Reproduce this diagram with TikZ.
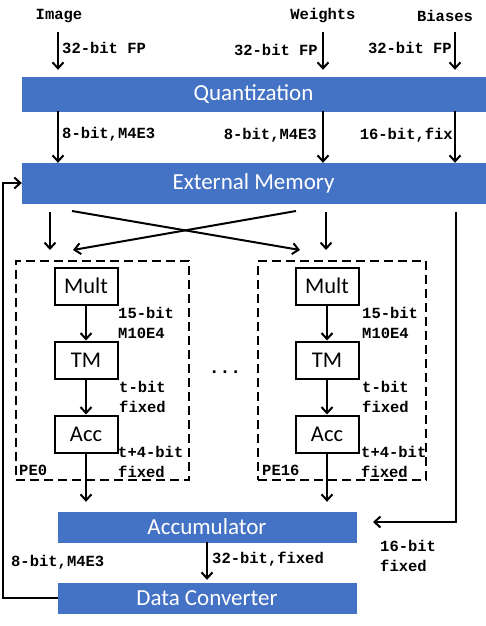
\documentclass[tikz,border=0pt]{standalone}
\usepackage{fontspec}
\setmainfont{Carlito}
\newfontfamily\monofnt{Liberation Mono}
\usetikzlibrary{arrows.meta}
\definecolor{C0}{RGB}{68,114,196}

\begin{document}
\begin{tikzpicture}[x=1pt,y=-1pt,
  bar/.style={fill=C0,draw=C0,text=white,inner sep=0pt,font=\fontsize{23}{27}\selectfont},
  unit/.style={draw,line width=2pt,minimum width=63pt,minimum height=37pt,inner sep=0pt,font=\fontsize{22.5}{27}\selectfont},
  lbl/.style={inner sep=0pt,align=left,font=\monofnt\bfseries\fontsize{15.5}{20}\selectfont},
  pe/.style={draw,line width=2pt,dash pattern=on 9pt off 5pt,minimum width=173pt,minimum height=219pt},
  arr/.style={-{Straight Barb[length=6pt,width=11pt]},line width=2pt},
  ln/.style={line width=2pt}]

  \useasboundingbox (0,0) rectangle (485,626);

  % Bars.
  \node[bar,minimum width=463pt,minimum height=34pt] (quant) at (253.5,94) {Quantization};
  \node[bar,minimum width=463pt,minimum height=40pt] (mem) at (253.5,183) {External Memory};
  \node[bar,minimum width=298pt,minimum height=30pt] (acc) at (207,527) {Accumulator};
  \node[bar,minimum width=298pt,minimum height=30pt] (dc) at (207,598) {Data Converter};

  % Inputs.
  \node[lbl] (img) at (59,16) {Image};
  \node[lbl] (wgt) at (323,16) {Weights};
  \node[lbl] (bias) at (445,16) {Biases};
  \coordinate (imgIn) at (58,32);
  \coordinate (wgtIn) at (323,32);
  \coordinate (biasIn) at (455,32);
  \draw[arr,shorten >=7pt] (imgIn) -- (imgIn |- quant.north);
  \draw[arr,shorten >=7pt] (wgtIn) -- (wgtIn |- quant.north);
  \draw[arr,shorten >=7pt] (biasIn) -- (biasIn |- quant.north);
  \node[lbl,anchor=west] (l1) at (62,48) {32-bit FP};
  \node[lbl,anchor=east] (l2) at (318,50) {32-bit FP};
  \node[lbl,anchor=east] (l3) at (452,48) {32-bit FP};

  % Quantized data into memory.
  \draw[arr] (quant.south -| imgIn) -- (mem.north -| imgIn);
  \draw[arr] (quant.south -| wgtIn) -- (mem.north -| wgtIn);
  \draw[arr] (quant.south -| biasIn) -- (mem.north -| biasIn);
  \node[lbl,anchor=west] (l4) at (62,134) {8-bit,M4E3};
  \node[lbl,anchor=east] (l5) at (317,135) {8-bit,M4E3};
  \node[lbl,anchor=east] (l6) at (453,135) {16-bit,fix};

  % Memory to the PEs.
  \coordinate (m0) at (50,212);
  \coordinate (m1) at (326,212);
  \coordinate (x0) at (72,211);
  \coordinate (x1) at (296,211);
  \coordinate (p0) at (50,250);
  \coordinate (p1) at (326,250);
  \coordinate (q0) at (300,250);
  \coordinate (q1) at (73,250);
  \draw[arr] (m0) -- (p0);
  \draw[arr] (m1) -- (p1);
  \draw[arr] (x0) -- (q0);
  \draw[arr] (x1) -- (q1);

  % PE0.
  \node[pe] (pe0) at (102.5,370.5) {};
  \node[unit] (mult0) at (86,286) {Mult};
  \node[unit] (tm0) at (86,360) {TM};
  \node[unit] (acc0) at (86,434) {Acc};
  \draw[arr] (mult0) -- (tm0);
  \draw[arr] (tm0) -- (acc0);
  \node[lbl,anchor=west] at (118,323) {15-bit\\M10E4};
  \node[lbl,anchor=west] at (119,397) {t-bit\\fixed};
  \node[lbl,anchor=west] at (118,462) {t+4-bit\\fixed};
  \node[lbl,anchor=west] at (19,470) {PE0};

  % PE16.
  \node[pe,minimum width=168pt] (pe16) at (342,370.5) {};
  \node[unit] (mult16) at (327,286) {Mult};
  \node[unit] (tm16) at (327,360) {TM};
  \node[unit] (acc16) at (327,434) {Acc};
  \draw[arr] (mult16) -- (tm16);
  \draw[arr] (tm16) -- (acc16);
  \node[lbl,anchor=west] at (362,323) {15-bit\\M10E4};
  \node[lbl,anchor=west] at (362,397) {t-bit\\fixed};
  \node[lbl,anchor=west] at (361,462) {t+4-bit\\fixed};
  \node[lbl,anchor=west] at (262,470) {PE16};

  \node[lbl,font=\monofnt\bfseries\fontsize{18}{20}\selectfont] (dots) at (225,372) {...};

  % PEs to the accumulator.
  \draw[arr,shorten >=10pt] (acc0) -- (acc0 |- acc.north);
  \draw[arr,shorten >=10pt] (acc16) -- (acc16 |- acc.north);

  % Biases straight to the accumulator.
  \coordinate (bOut) at (456,212);
  \coordinate (accIn) at (373,522);
  \draw[arr] (bOut) |- (accIn);
  \node[lbl,anchor=west] at (380,556) {16-bit\\fixed};

  % Accumulator to converter.
  \draw[arr,shorten >=3pt] (acc) -- (dc);
  \node[lbl,anchor=west] at (212,559) {32-bit,fixed};

  % Feedback to memory.
  \draw[arr] (dc.west) -- ++(-55,0) |- (mem.west);
  \node[lbl,anchor=west] at (11,562) {8-bit,M4E3};

\end{tikzpicture}
\end{document}
